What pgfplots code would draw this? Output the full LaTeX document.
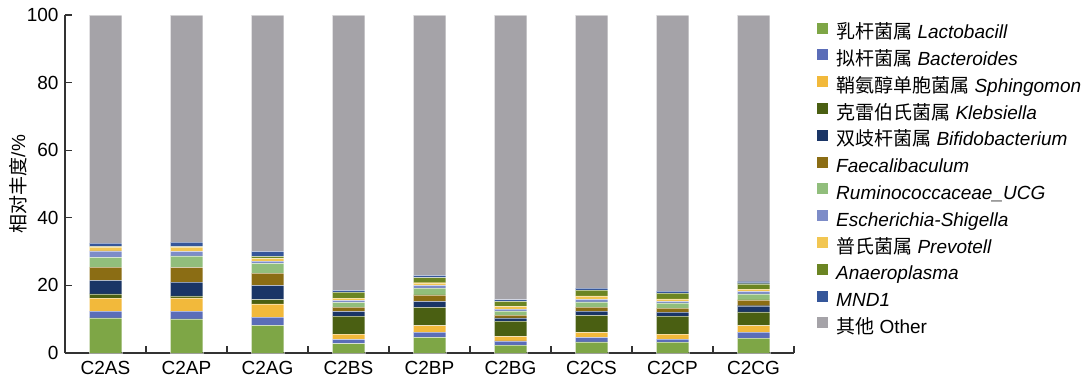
\documentclass[border=0pt]{standalone}
\usepackage{pgfplots}
\usepackage{pgfplotstable}
\pgfplotsset{compat=1.18}
\usepackage{fontspec}
\setmainfont{Liberation Sans}
\newfontfamily\cjk{Noto Sans CJK SC}

\definecolor{cLac}{RGB}{126,166,70}
\definecolor{cBac}{RGB}{91,109,184}
\definecolor{cSph}{RGB}{242,185,59}
\definecolor{cKle}{RGB}{74,95,18}
\definecolor{cBif}{RGB}{26,53,102}
\definecolor{cFae}{RGB}{139,109,20}
\definecolor{cRum}{RGB}{145,190,124}
\definecolor{cEsc}{RGB}{125,140,200}
\definecolor{cPre}{RGB}{242,198,82}
\definecolor{cAna}{RGB}{107,133,35}
\definecolor{cMND}{RGB}{53,86,154}
\definecolor{cOth}{RGB}{165,163,168}

\pgfplotstableread{
x Lac Bac Sph Kle Bif Fae Rum Esc Pre Ana MND Oth
0 10.4 2.0 3.8 1.3 4.0 3.9 2.9 1.9 1.2 0.1 1.0 67.5
1 10.1 2.3 3.9 0.6 4.1 4.3 3.4 1.4 1.2 0.2 1.3 67.2
2 8.2 2.4 3.9 1.3 4.2 3.6 2.9 0.7 0.8 0.6 1.5 69.9
3 2.8 1.2 1.6 5.3 1.4 1.3 1.4 0.6 0.6 1.8 0.5 81.5
4 4.6 1.6 1.9 5.4 1.8 1.9 2.0 0.8 0.8 1.5 0.7 77.0
5 2.3 1.3 1.3 4.5 1.0 0.8 1.2 0.6 0.8 1.5 0.5 84.2
6 3.3 1.3 1.5 5.0 1.3 1.2 1.5 0.8 1.0 1.7 0.6 80.8
7 3.2 0.9 1.5 5.3 1.2 1.2 1.5 0.5 0.7 1.7 0.6 81.7
8 4.4 1.8 1.9 4.1 1.8 1.7 1.8 0.7 0.7 1.6 0.6 78.9
}\data

\newcommand{\fs}{\fontsize{19pt}{22pt}\selectfont}

\begin{document}
\fs
\begin{tikzpicture}
\useasboundingbox (-65pt,-28pt) rectangle (1020pt,353pt);
\begin{axis}[
  at={(0pt,0pt)}, anchor=south west,
  scale only axis, width=729pt, height=338pt,
  ybar stacked, bar width=0.4,
  xmin=-0.5, xmax=8.5, ymin=0, ymax=100,
  axis x line*=bottom, axis y line*=left,
  axis line style={-, line width=1.2pt, color=black!80},
  tick style={line width=1.2pt, color=black!80},
  tick align=inside, major tick length=7pt,
  xtick={-0.5,0.5,...,8.5},
  x tick label as interval,
  xticklabels={C2AS,C2AP,C2AG,C2BS,C2BP,C2BG,C2CS,C2CP,C2CG},
  ytick={0,20,...,100},
  /pgf/number format/assume math mode=true,
  tick label style={font=\fs},
  x tick label style={yshift=-2pt},
  ylabel={{\cjk 相对丰度}/\%},
  ylabel style={font=\fs, at={(axis description cs:-0.0645,0.5)}, anchor=center},
  legend style={at={(axis description cs:1.0316,0.978)}, anchor=north west,
    draw=none, fill=none, inner sep=0pt, font=\fs,
    nodes={inner sep=0pt, text height=13pt, text depth=4pt, anchor=west},
    row sep=6.8pt, column sep=8pt},
  legend cell align=left,
  legend image code/.code={\fill[#1, draw=none] (0pt,0.5pt) rectangle (11pt,11.5pt);},
  every axis plot/.append style={draw=white, draw opacity=0.5, line width=0.3pt},
]
\addplot[fill=cLac] table[x=x,y=Lac]{\data};
\addplot[fill=cBac] table[x=x,y=Bac]{\data};
\addplot[fill=cSph] table[x=x,y=Sph]{\data};
\addplot[fill=cKle] table[x=x,y=Kle]{\data};
\addplot[fill=cBif] table[x=x,y=Bif]{\data};
\addplot[fill=cFae] table[x=x,y=Fae]{\data};
\addplot[fill=cRum] table[x=x,y=Rum]{\data};
\addplot[fill=cEsc] table[x=x,y=Esc]{\data};
\addplot[fill=cPre] table[x=x,y=Pre]{\data};
\addplot[fill=cAna] table[x=x,y=Ana]{\data};
\addplot[fill=cMND] table[x=x,y=MND]{\data};
\addplot[fill=cOth] table[x=x,y=Oth]{\data};
\legend{{\cjk 乳杆菌属} \textit{Lactobacill},
        {\cjk 拟杆菌属} \textit{Bacteroides},
        {\cjk 鞘氨醇单胞菌属} \textit{Sphingomon},
        {\cjk 克雷伯氏菌属} \textit{Klebsiella},
        {\cjk 双歧杆菌属} \textit{Bifidobacterium},
        \textit{Faecalibaculum},
        \textit{Ruminococcaceae\_UCG},
        \textit{Escherichia-Shigella},
        {\cjk 普氏菌属} \textit{Prevotell},
        \textit{Anaeroplasma},
        \textit{MND1},
        {\cjk 其他} Other}
\end{axis}
\end{tikzpicture}
\end{document}
